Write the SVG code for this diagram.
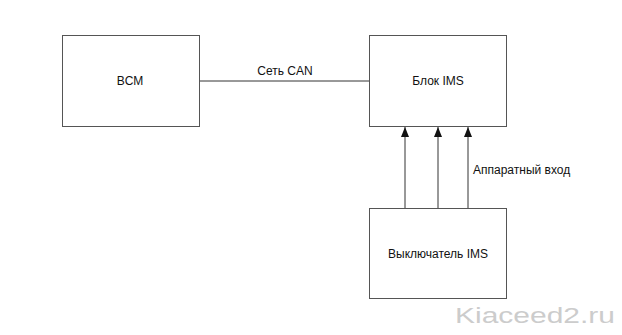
<svg xmlns="http://www.w3.org/2000/svg" width="622" height="335" viewBox="0 0 622 335">
<style>
.box{fill:#fff;stroke:#555;stroke-width:1}
.t{font-family:"Liberation Sans",Arial,sans-serif;font-size:12px;fill:#111}
.c{stroke:#333;stroke-width:1;fill:none}
</style>
<defs>
<marker id="ah" markerWidth="10" markerHeight="8" refX="10" refY="4" orient="auto" markerUnits="userSpaceOnUse" viewBox="0 0 10 8">
<path d="M0,0 L10,4 L0,8 Z" fill="#111"/>
</marker>
</defs>
<rect width="622" height="335" fill="#fff"/>
<g id="connectors">
<line class="c" x1="199" y1="81" x2="369" y2="81" stroke-width="1.5"/>
<text class="t" x="285" y="75" text-anchor="middle">Сеть CAN</text>
<line class="c" x1="405" y1="208" x2="405" y2="127" marker-end="url(#ah)"/>
<line class="c" x1="438" y1="208" x2="438" y2="127" marker-end="url(#ah)"/>
<line class="c" x1="468" y1="208" x2="468" y2="127" stroke="#999" marker-end="url(#ah)"/>
<text class="t" x="473" y="174">Аппаратный вход</text>
</g>
<g id="bcm">
<rect class="box" x="62.5" y="35.5" width="137" height="91"/>
<text class="t" x="130" y="85" text-anchor="middle">BCM</text>
</g>
<g id="ims">
<rect class="box" x="369.5" y="35.5" width="137" height="91"/>
<text class="t" x="438" y="85" text-anchor="middle">Блок IMS</text>
</g>
<g id="switch">
<rect class="box" x="369.5" y="208.5" width="137" height="90"/>
<text class="t" x="438" y="258" text-anchor="middle">Выключатель IMS</text>
</g>
<text x="455" y="323" font-family="'Liberation Sans',Arial,sans-serif" font-size="22" fill="#ccc" textLength="160" lengthAdjust="spacingAndGlyphs">Kiaceed2.ru</text>
</svg>
